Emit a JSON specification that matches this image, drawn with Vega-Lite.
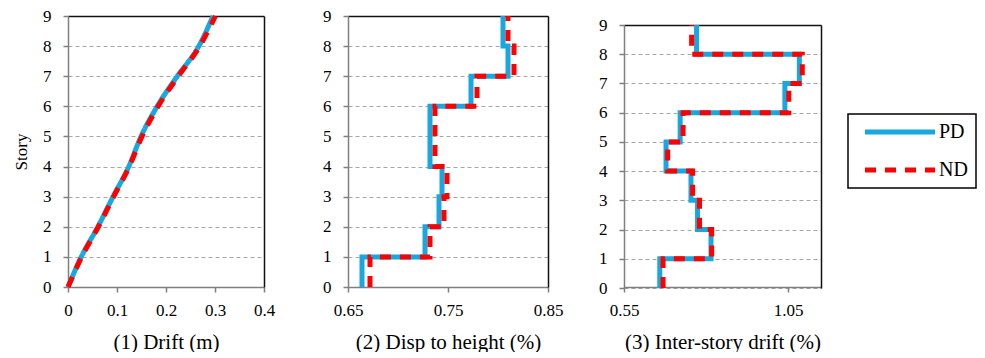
{
  "$schema": "https://vega.github.io/schema/vega-lite/v6.json",
  "background": "white",
  "padding": {"left": 12, "top": 6, "right": 0, "bottom": 0},
  "datasets": {
    "d1": [
      {"series": "PD", "story": 0, "value": 0},
      {"series": "PD", "story": 1, "value": 0.027},
      {"series": "PD", "story": 2, "value": 0.061},
      {"series": "PD", "story": 3, "value": 0.092},
      {"series": "PD", "story": 4, "value": 0.124},
      {"series": "PD", "story": 5, "value": 0.149},
      {"series": "PD", "story": 6, "value": 0.182},
      {"series": "PD", "story": 7, "value": 0.223},
      {"series": "PD", "story": 8, "value": 0.267},
      {"series": "PD", "story": 9, "value": 0.296},
      {"series": "ND", "story": 0, "value": 0},
      {"series": "ND", "story": 1, "value": 0.028},
      {"series": "ND", "story": 2, "value": 0.062},
      {"series": "ND", "story": 3, "value": 0.093},
      {"series": "ND", "story": 4, "value": 0.125},
      {"series": "ND", "story": 5, "value": 0.151},
      {"series": "ND", "story": 6, "value": 0.184},
      {"series": "ND", "story": 7, "value": 0.225},
      {"series": "ND", "story": 8, "value": 0.269},
      {"series": "ND", "story": 9, "value": 0.301}
    ],
    "d2": [
      {"series": "PD", "story": 0, "value": 0.664},
      {"series": "PD", "story": 1, "value": 0.727},
      {"series": "PD", "story": 2, "value": 0.741},
      {"series": "PD", "story": 3, "value": 0.744},
      {"series": "PD", "story": 4, "value": 0.732},
      {"series": "PD", "story": 5, "value": 0.732},
      {"series": "PD", "story": 6, "value": 0.773},
      {"series": "PD", "story": 7, "value": 0.810},
      {"series": "PD", "story": 8, "value": 0.805},
      {"series": "PD", "story": 9, "value": 0.805},
      {"series": "ND", "story": 0, "value": 0.672},
      {"series": "ND", "story": 1, "value": 0.732},
      {"series": "ND", "story": 2, "value": 0.746},
      {"series": "ND", "story": 3, "value": 0.749},
      {"series": "ND", "story": 4, "value": 0.737},
      {"series": "ND", "story": 5, "value": 0.737},
      {"series": "ND", "story": 6, "value": 0.779},
      {"series": "ND", "story": 7, "value": 0.816},
      {"series": "ND", "story": 8, "value": 0.810},
      {"series": "ND", "story": 9, "value": 0.810}
    ],
    "d3": [
      {"series": "PD", "story": 0, "value": 0.659},
      {"series": "PD", "story": 1, "value": 0.815},
      {"series": "PD", "story": 2, "value": 0.774},
      {"series": "PD", "story": 3, "value": 0.754},
      {"series": "PD", "story": 4, "value": 0.678},
      {"series": "PD", "story": 5, "value": 0.721},
      {"series": "PD", "story": 6, "value": 1.040},
      {"series": "PD", "story": 7, "value": 1.084},
      {"series": "PD", "story": 8, "value": 0.771},
      {"series": "PD", "story": 9, "value": 0.771},
      {"series": "ND", "story": 0, "value": 0.669},
      {"series": "ND", "story": 1, "value": 0.817},
      {"series": "ND", "story": 2, "value": 0.780},
      {"series": "ND", "story": 3, "value": 0.759},
      {"series": "ND", "story": 4, "value": 0.683},
      {"series": "ND", "story": 5, "value": 0.730},
      {"series": "ND", "story": 6, "value": 1.052},
      {"series": "ND", "story": 7, "value": 1.093},
      {"series": "ND", "story": 8, "value": 0.756},
      {"series": "ND", "story": 9, "value": 0.756}
    ]
  },
  "config": {
    "font": "Times New Roman, Liberation Serif, serif",
    "view": {"stroke": null},
    "axis": {
      "labelFont": "Times New Roman, Liberation Serif, serif", "titleFont": "Times New Roman, Liberation Serif, serif",
      "labelFontSize": 17, "titleFontSize": 21, "titleFontWeight": "normal",
      "labelColor": "#000", "titleColor": "#000", "labelFlush": false,
      "domainColor": "#7f7f7f", "domainWidth": 1.5,
      "tickColor": "#7f7f7f", "tickSize": 5, "tickWidth": 1.5,
      "gridColor": "#a6a6a6", "gridDash": [4, 3], "gridWidth": 1
    },
    "axisX": {"labelPadding": 10, "titlePadding": 13, "grid": false, "labelFlush": false},
    "axisY": {"labelPadding": 12, "titlePadding": 12, "titleFontSize": 17, "grid": true, "labelFlush": false},
    "legend": {
      "orient": "none", "legendX": 780, "legendY": 98,
      "strokeColor": "#000", "strokeWidth": 1.5, "padding": 8,
      "labelFont": "Times New Roman, Liberation Serif, serif", "labelFontSize": 20, "labelColor": "#000",
      "symbolType": "M-7,0H7", "symbolStrokeWidth": 5, "symbolSize": 100, "symbolOffset": 34,
      "rowPadding": 18, "labelOffset": 29
    },
    "line": {"strokeWidth": 5}
  },
  "bounds": "flush",
  "spacing": 84,
  "hconcat": [
    {
      "width": 196, "height": 271,
      "data": {"name": "d1"},
      "resolve": {"axis": {"x": "independent", "y": "independent"}},
      "encoding": {
        "y": {"field": "story", "type": "quantitative", "scale": {"domain": [0, 9]},
              "axis": {"values": [0,1,2,3,4,5,6,7,8,9], "format": "d", "title": "Story"}},
        "x": {"field": "value", "type": "quantitative", "scale": {"domain": [0, 0.4]},
              "axis": {"values": [0, 0.1, 0.2, 0.3, 0.4], "format": "~g", "title": "(1) Drift (m)"}},
        "order": {"field": "story", "type": "quantitative"},
        "color": {"field": "series", "type": "nominal", "scale": {"domain": ["PD", "ND"], "range": ["#17a8e0", "#ff0000"]}, "legend": {"title": null}},
        "strokeDash": {"field": "series", "type": "nominal", "scale": {"domain": ["PD", "ND"], "range": [[1, 0], [11, 9]]}, "legend": {"title": null}}
      },
      "layer": [
        {"transform": [{"filter": "datum.series === 'PD'"}], "mark": {"type": "line", "interpolate": "monotone"}},
        {"transform": [{"filter": "datum.series === 'ND'"}], "mark": {"type": "line", "interpolate": "monotone"},
         "encoding": {
           "x": {"field": "value", "type": "quantitative", "axis": {"orient": "top", "labels": false, "ticks": false, "grid": false, "title": null, "domainColor": "#111"}},
           "y": {"field": "story", "type": "quantitative", "axis": {"orient": "right", "labels": false, "ticks": false, "grid": false, "title": null, "domainColor": "#111"}}
         }}
      ]
    },
    {
      "bounds": "flush",
      "spacing": 76,
      "hconcat": [
        {
          "width": 200, "height": 271,
          "data": {"name": "d2"},
          "resolve": {"axis": {"x": "independent", "y": "independent"}},
          "encoding": {
            "y": {"field": "story", "type": "quantitative", "scale": {"domain": [0, 9]},
                  "axis": {"values": [0,1,2,3,4,5,6,7,8,9], "format": "d", "title": null}},
            "x": {"field": "value", "type": "quantitative", "scale": {"domain": [0.65, 0.85]},
                  "axis": {"values": [0.65, 0.75, 0.85], "format": ".2f", "title": "(2) Disp to height (%)"}},
            "order": {"field": "story", "type": "quantitative"},
            "color": {"field": "series", "type": "nominal", "scale": {"domain": ["PD", "ND"], "range": ["#17a8e0", "#ff0000"]}, "legend": {"title": null}},
            "strokeDash": {"field": "series", "type": "nominal", "scale": {"domain": ["PD", "ND"], "range": [[1, 0], [11, 9]]}, "legend": {"title": null}}
          },
          "layer": [
            {"transform": [{"filter": "datum.series === 'PD'"}], "mark": {"type": "line", "interpolate": "step-before"}},
            {"transform": [{"filter": "datum.series === 'ND'"}], "mark": {"type": "line", "interpolate": "step-before"},
             "encoding": {
               "x": {"field": "value", "type": "quantitative", "axis": {"orient": "top", "labels": false, "ticks": false, "grid": false, "title": null, "domainColor": "#111"}},
               "y": {"field": "story", "type": "quantitative", "axis": {"orient": "right", "labels": false, "ticks": false, "grid": false, "title": null, "domainColor": "#111"}}
             }}
          ]
        },
        {
          "width": 197, "height": 271,
          "data": {"name": "d3"},
          "resolve": {"axis": {"x": "independent", "y": "independent"}},
          "encoding": {
            "y": {"field": "story", "type": "quantitative", "scale": {"domain": [0, 9], "range": [272, 9]},
                  "axis": {"values": [0,1,2,3,4,5,6,7,8,9], "format": "d", "title": null}},
            "x": {"field": "value", "type": "quantitative", "scale": {"domain": [0.55, 1.15]},
                  "axis": {"values": [0.55, 1.05], "format": ".2f", "title": "(3) Inter-story drift (%)"}},
            "order": {"field": "story", "type": "quantitative"},
            "color": {"field": "series", "type": "nominal", "scale": {"domain": ["PD", "ND"], "range": ["#17a8e0", "#ff0000"]}, "legend": {"title": null}},
            "strokeDash": {"field": "series", "type": "nominal", "scale": {"domain": ["PD", "ND"], "range": [[1, 0], [11, 9]]}, "legend": {"title": null}}
          },
          "layer": [
            {"transform": [{"filter": "datum.series === 'PD'"}], "mark": {"type": "line", "interpolate": "step-before"}},
            {"transform": [{"filter": "datum.series === 'ND'"}], "mark": {"type": "line", "interpolate": "step-before"},
             "encoding": {
               "x": {"field": "value", "type": "quantitative", "axis": {"orient": "top", "offset": -9, "labels": false, "ticks": false, "grid": false, "title": null, "domainColor": "#111"}},
               "y": {"field": "story", "type": "quantitative", "axis": {"orient": "right", "labels": false, "ticks": false, "grid": false, "title": null, "domainColor": "#111"}}
             }}
          ]
        }
      ]
    }
  ]
}
